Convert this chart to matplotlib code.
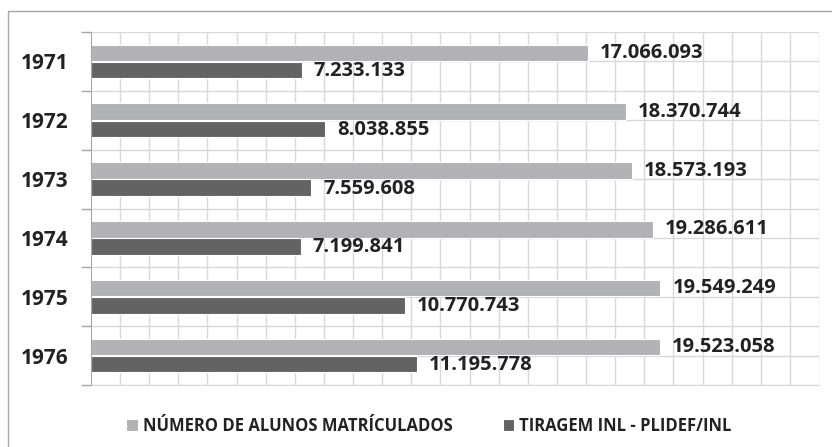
import matplotlib.pyplot as plt
import matplotlib.patches as patches
import numpy as np

plt.rcParams["font.family"] = ["Open Sans", "DejaVu Sans"]
plt.rcParams["font.weight"] = "bold"

anos = ["1971", "1972", "1973", "1974", "1975", "1976"]
alunos = [17066093, 18370744, 18573193, 19286611, 19549249, 19523058]
tiragem = [7233133, 8038855, 7559608, 7199841, 10770743, 11195778]
nome_alunos = "NÚMERO DE ALUNOS MATRÍCULADOS"
nome_tiragem = "TIRAGEM INL - PLIDEF/INL"

cor_claro = "#b1b2b5"
cor_escuro = "#636365"
cor_grade = "#d9d9d9"
cor_texto = "#222222"


def fmt(v):
    return f"{v:,}".replace(",", ".")


fig = plt.figure(figsize=(8.32, 4.47), dpi=100)
ax = fig.add_axes([91 / 832, 62 / 447, 728 / 832, 353 / 447])

y = np.arange(len(anos))
h = 0.28
off = 0.145

b1 = ax.barh(y - off, alunos, height=h, color=cor_claro, edgecolor="white",
             linewidth=0.8, zorder=3, label=nome_alunos)
b2 = ax.barh(y + off, tiragem, height=h, color=cor_escuro, edgecolor="white",
             linewidth=0.8, zorder=3, label=nome_tiragem)

for i in range(len(anos)):
    ax.annotate(fmt(alunos[i]), (alunos[i], y[i] - off), xytext=(12, 0),
                textcoords="offset pixels", va="center", ha="left",
                fontsize=14.5, fontweight="bold", color=cor_texto)
    ax.annotate(fmt(tiragem[i]), (tiragem[i], y[i] + off), xytext=(12, -1),
                textcoords="offset pixels", va="center", ha="left",
                fontsize=14.5, fontweight="bold", color=cor_texto)

ax.set_xlim(0, 25e6)
ax.set_ylim(len(anos) - 0.5, -0.5)

# grade: uma linha a cada milhao e a cada meia categoria
for xv in np.arange(1, 26) * 1e6:
    ax.axvline(xv, color=cor_grade, lw=1, zorder=1)
for yv in np.arange(-0.5, len(anos), 0.5):
    ax.axhline(yv, color=cor_grade, lw=1, zorder=1)

ax.set_xticks([])
ax.set_yticks(y)
ax.set_yticklabels(anos, fontsize=15, fontweight="bold", color=cor_texto)
ax.tick_params(axis="y", length=0, pad=16.5)
ax.set_yticks(np.arange(-0.5, len(anos), 1), minor=True)
ax.tick_params(axis="y", which="minor", length=7, width=1, color="#a6a6a6",
               direction="out")

for s in ["top", "right"]:
    ax.spines[s].set_visible(False)
ax.spines["left"].set_color("#a6a6a6")
ax.spines["bottom"].set_color(cor_grade)
ax.spines["left"].set_zorder(4)

leg = fig.legend(handles=[b1, b2], loc="center", bbox_to_anchor=(429 / 832, 1 - 426 / 447),
                 ncol=2, frameon=False, handlelength=0.7, handleheight=0.7,
                 handletextpad=0.3, columnspacing=3.0, prop={"weight": "bold", "size": 12})
for t in leg.get_texts():
    t.set_color(cor_texto)

frame = patches.Rectangle((8 / 832, -0.1), 1.0, 436 / 447 + 0.1, transform=fig.transFigure,
                          fill=False, edgecolor="#a6a6a6", lw=1)
fig.patches.append(frame)

fig.savefig("out.png", dpi=100)
